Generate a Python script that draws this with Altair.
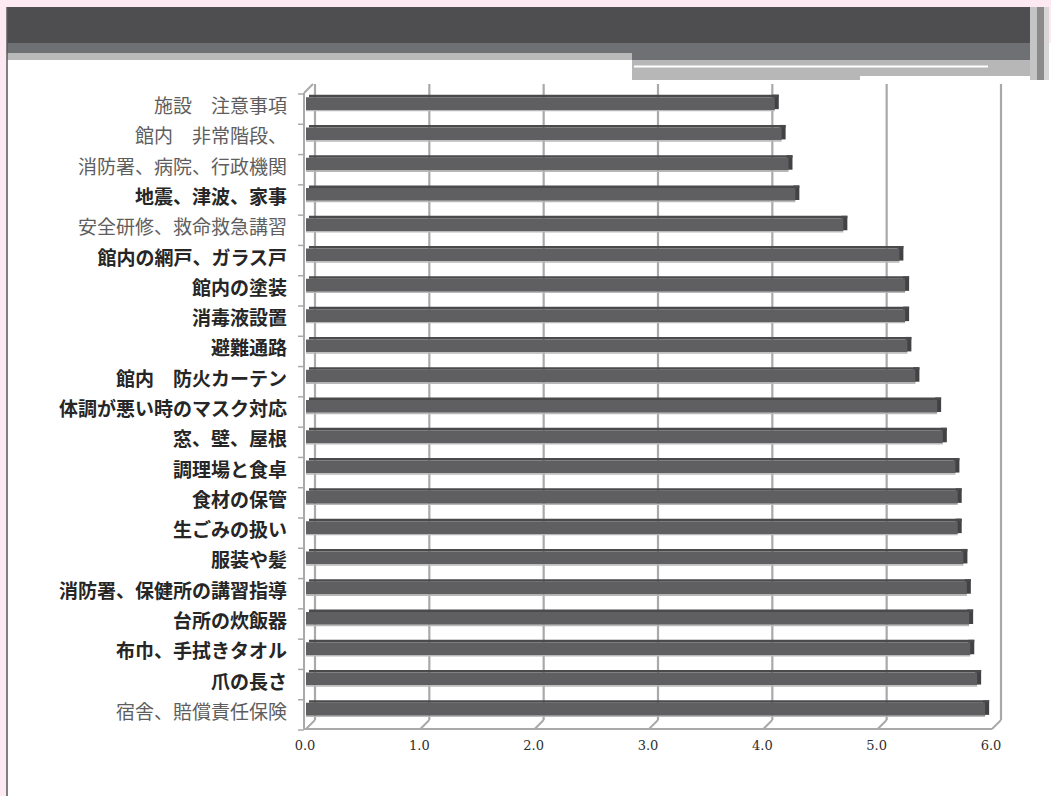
import altair as alt
import pandas as pd

# Survey items, top to bottom, with their average scores
items = [
    "施設　注意事項",
    "館内　非常階段、",
    "消防署、病院、行政機関",
    "地震、津波、家事",
    "安全研修、救命救急講習",
    "館内の網戸、ガラス戸",
    "館内の塗装",
    "消毒液設置",
    "避難通路",
    "館内　防火カーテン",
    "体調が悪い時のマスク対応",
    "窓、壁、屋根",
    "調理場と食卓",
    "食材の保管",
    "生ごみの扱い",
    "服装や髪",
    "消防署、保健所の講習指導",
    "台所の炊飯器",
    "布巾、手拭きタオル",
    "爪の長さ",
    "宿舎、賠償責任保険",
]
scores = [4.10, 4.16, 4.22, 4.28, 4.70, 5.19, 5.24, 5.24, 5.26, 5.33, 5.52,
          5.57, 5.68, 5.70, 5.70, 5.75, 5.78, 5.80, 5.81, 5.87, 5.94]
# items whose labels are set in the lighter style
light_items = ["施設　注意事項", "館内　非常階段、", "消防署、病院、行政機関",
               "安全研修、救命救急講習", "宿舎、賠償責任保険"]
tick_values = [0, 1, 2, 3, 4, 5, 6]
tick_labels = ["0.0", "1.0", "2.0", "3.0", "4.0", "5.0", "6.0"]

bars = pd.DataFrame({"item": items, "score": scores, "row": list(range(len(items)))})
bars["base"] = 0.0
bars["tone"] = ["light" if it in light_items else "strong" for it in items]
grid = pd.DataFrame({"k": tick_values, "lab": tick_labels})
bounds = pd.DataFrame({"b": [i - 0.5 for i in range(len(items) + 1)]})
one = pd.DataFrame({"k": [0]})

XS = alt.Scale(domain=[0, 6], range=[306, 992], nice=False, zero=False)
YS = alt.Scale(domain=[-0.5, len(items) - 0.5], range=[94, 730], nice=False, zero=False)

GRID = "#a9a9a9"


def panel(x0, x1, y0, y1, color):
    return alt.Chart(one).mark_rect(color=color).encode(
        x=alt.value(x0), x2=alt.value(x1), y=alt.value(y0), y2=alt.value(y1)
    )


# page furniture: white sheet, header bands and left border
sheet = panel(8, 1051, 43, 796, "white")
head_dark = panel(7, 1030, 7, 43, "#4e4e50")
head_mid = panel(7, 1030, 43, 53, "#6f7073")
head_mid_step = panel(632, 1030, 53, 60, "#6f7073")
strip_left = panel(7, 632, 53, 60, "#b9b9b9")
strip_right = panel(632, 1030, 60, 80, "#b7b7b7")
strip_line = panel(634, 988, 65.5, 67.5, "white")
strip_cut = panel(860, 1030, 76, 80, "white")
edge_a = panel(1030, 1037, 7, 80, "#c4c4c4")
edge_b = panel(1037, 1044, 7, 80, "#8a8a8a")
edge_c = panel(1044, 1049, 7, 80, "#d6d6d6")
border = alt.Chart(one).mark_rule(color="#5a5a5a", strokeWidth=1.5).encode(
    x=alt.value(7), y=alt.value(7), y2=alt.value(796)
)

# back wall gridlines
back_grid = alt.Chart(grid).mark_rule(color=GRID, strokeWidth=2.2, xOffset=9).encode(
    x=alt.X("k:Q", scale=XS, axis=None), y=alt.value(84), y2=alt.value(720)
)
# floor slashes joining front ticks to back gridlines
floor_ticks = alt.Chart(grid).mark_rule(color=GRID, strokeWidth=2, x2Offset=9).encode(
    x=alt.X("k:Q", scale=XS, axis=None), x2="k:Q", y=alt.value(729), y2=alt.value(720)
)
floor_front = alt.Chart(one).mark_rule(color=GRID, strokeWidth=2, xOffset=-2).encode(
    x=alt.X(datum=0, scale=XS, axis=None), x2=alt.datum(6), y=alt.value(729)
)
left_axis = alt.Chart(one).mark_rule(color=GRID, strokeWidth=2, xOffset=-2).encode(
    x=alt.X(datum=0, scale=XS, axis=None), y=alt.value(93), y2=alt.value(729)
)
left_top = alt.Chart(one).mark_rule(color=GRID, strokeWidth=2, xOffset=-2, x2Offset=7).encode(
    x=alt.X(datum=0, scale=XS, axis=None), x2=alt.datum(0), y=alt.value(93), y2=alt.value(84)
)
left_ticks = alt.Chart(bounds).mark_rule(color=GRID, strokeWidth=1.5).encode(
    x=alt.value(298), x2=alt.value(304), y=alt.Y("b:Q", scale=YS, axis=None)
)

# 3-D style bars: side face, top face, front face and a light underline
enc = dict(
    x=alt.X("base:Q", scale=XS, axis=None),
    x2="score:Q",
    y=alt.Y("row:Q", scale=YS, axis=None),
    y2="row:Q",
)
bar_side = alt.Chart(bars).mark_rect(
    color="#424244", xOffset=-2, x2Offset=4, yOffset=-14.5, y2Offset=0
).encode(**{**enc, "x": alt.X("score:Q", scale=XS, axis=None)})
bar_top = alt.Chart(bars).mark_rect(
    color="#4a4a4c", xOffset=3, x2Offset=4, yOffset=-14.5, y2Offset=-12
).encode(**enc)
bar_front = alt.Chart(bars).mark_rect(
    color="#5f5f61", yOffset=-12, y2Offset=0.8
).encode(**enc)
bar_under = alt.Chart(bars).mark_rect(
    color="#b8b8b8", yOffset=0.8, y2Offset=2.2
).encode(**enc)

# category labels in two tones
label_light = alt.Chart(bars).transform_filter(alt.datum.tone == "light").mark_text(
    align="right", baseline="middle", dy=-2, fontSize=19,
    font="Noto Sans CJK JP", fontWeight="normal", color="#5e5e5e"
).encode(x=alt.value(287), y=alt.Y("row:Q", scale=YS, axis=None), text="item:N")
label_strong = alt.Chart(bars).transform_filter(alt.datum.tone == "strong").mark_text(
    align="right", baseline="middle", dy=-2, fontSize=19,
    font="Noto Sans CJK JP", fontWeight="bold", color="#262626"
).encode(x=alt.value(287), y=alt.Y("row:Q", scale=YS, axis=None), text="item:N")

# value axis labels
x_labels = alt.Chart(grid).mark_text(
    baseline="middle", fontSize=13, font="DejaVu Serif", color="#2e2e2e", dx=-1
).encode(x=alt.X("k:Q", scale=XS, axis=None), y=alt.value(746), text="lab:N")

chart = alt.layer(
    sheet, head_dark, head_mid, head_mid_step, strip_left, strip_right,
    strip_line, strip_cut, edge_a, edge_b, edge_c, border,
    back_grid, floor_ticks, floor_front, left_axis, left_top, left_ticks,
    bar_side, bar_top, bar_front, bar_under,
    label_light, label_strong, x_labels,
).properties(
    width=1051, height=796, background="#fde9f1",
    padding=0, autosize=alt.AutoSizeParams(type="none"),
).configure_view(stroke=None)

chart.save("out.html", embed_options={"renderer": "svg", "actions": False})
